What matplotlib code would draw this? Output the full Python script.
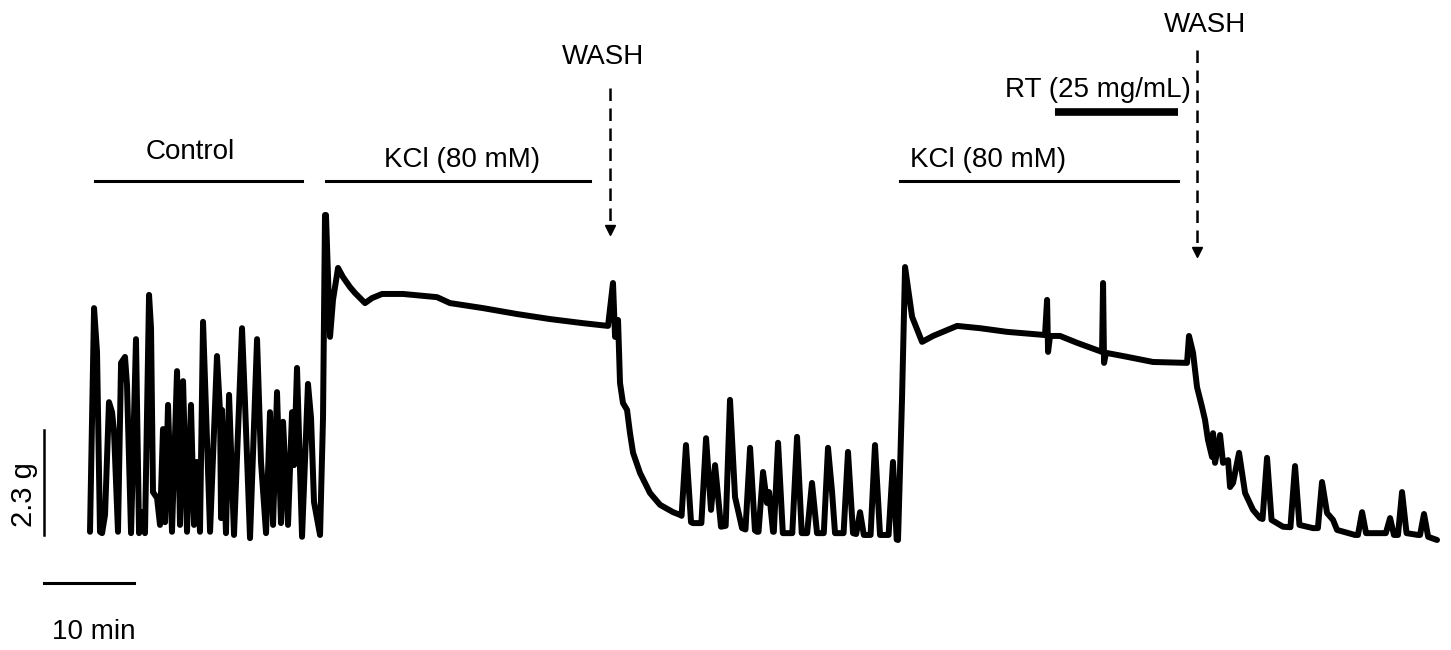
import numpy as np
import matplotlib.pyplot as plt

# ── Trace (time in min, force in g) ────────────────────────────────────────
ctrl_t = [0.22, 0.67, 1.0, 1.33, 1.56, 1.89, 2.33, 2.67, 2.89, 3.33, 3.67, 4.11, 4.33,
          4.78, 5.33, 5.67, 6.0, 6.33, 6.78, 7.0, 7.22, 7.67, 8.0, 8.33, 8.56, 8.89,
          9.33, 9.89, 10.22, 10.56, 11.0, 11.44, 11.78, 12.11, 12.44, 12.78, 13.56,
          14.33, 14.67, 14.78, 14.89, 15.33, 15.67, 16.22, 17.11, 17.44, 18.0, 18.78,
          19.22, 19.78, 20.22, 20.56, 21.0, 21.44, 21.67, 22.22, 22.67, 22.89, 23.22,
          23.78, 24.44, 24.78, 25.11, 25.78]
ctrl_g = [0.07, 4.97, 4.01, 0.07, 0.04, 0.44, 2.91, 2.69, 2.26, 0.07, 3.77, 3.90, 3.29,
          0.04, 4.29, 0.04, 0.50, 0.04, 5.26, 4.53, 0.94, 0.81, 0.22, 2.32, 0.28, 2.85,
          0.07, 3.59, 0.22, 3.37, 0.07, 2.85, 0.22, 1.60, 0.07, 4.67, 0.07,
          3.92, 2.69, 0.37, 2.74, 0.04, 3.07, 0.0, 4.53, 2.91, -0.07, 4.29,
          1.60, 0.04, 2.69, 0.22, 3.13, 0.26, 2.48, 0.22, 2.69, 1.53, 3.66,
          -0.04, 3.31, 2.56, 0.72, 0.0]

kcl1_t = [25.78, 26.11, 26.33, 26.44, 26.89, 27.22, 27.78, 28.33, 29.11, 29.67, 30.78,
          31.56, 32.67, 35.0, 38.78, 40.22, 43.89, 47.67, 51.33, 55.0, 57.78, 58.33,
          58.56, 58.89]
kcl1_g = [0.0, 2.56, 7.01, 7.01, 4.34, 5.15, 5.85, 5.65, 5.43, 5.30, 5.08,
          5.19, 5.28, 5.28, 5.21, 5.08, 4.97, 4.84, 4.73, 4.64, 4.58, 5.52,
          4.34, 4.71]

wash1_t = [58.89, 59.11, 59.44, 59.89, 60.22, 60.56, 61.33, 62.44, 63.56, 65.0, 65.78,
           65.95, 66.44, 67.0, 67.22, 68.0, 68.15, 68.67, 69.22, 69.67, 70.33, 70.85,
           71.33, 71.89, 72.67, 73.05, 73.56, 74.1, 74.33, 74.5, 75.0, 75.44, 75.67,
           76.11, 76.2, 76.67, 77.2, 78.25, 78.78, 79.3, 79.9, 80.44, 81.0, 81.75,
           82.22, 82.67, 83.0, 83.95, 84.44, 85.0, 85.35, 85.78, 86.2, 86.95, 87.44,
           88.0, 88.95, 89.44, 89.85, 90.0]
wash1_g = [4.71, 3.33, 2.89, 2.74, 2.23, 1.80, 1.36, 0.92, 0.66, 0.50, 0.44,
           0.42, 1.97, 0.28, 0.26, 0.26, 0.26, 2.12, 0.55, 1.53, 0.18, 0.20,
           2.96, 0.83, 0.15, 0.12, 1.91, 0.10, 0.07, 0.07, 1.38, 0.70, 0.94,
           0.07, 0.07, 2.02, 0.04, 0.04, 2.15, 0.04, 0.04, 1.14, 0.04, 0.04,
           1.91, 0.94, 0.04, 0.04, 1.82, 0.04, 0.02, 0.50, 0.0, 0.0, 1.97,
           0.0, 0.0, 1.60, -0.10, -0.11]

kcl2_t = [90.0, 90.44, 90.78, 91.56, 92.67, 93.89, 96.56, 99.11, 102.11, 106.33, 106.56,
          106.67, 106.89, 108.0, 109.89, 112.67, 112.78, 112.89, 113.11, 115.0, 118.33,
          122.11, 122.33, 122.78]
kcl2_g = [-0.11, 2.96, 5.87, 4.78, 4.23, 4.36, 4.58, 4.53, 4.45, 4.38, 5.15,
          4.01, 4.36, 4.36, 4.21, 4.01, 5.52, 3.77, 3.99, 3.92, 3.79,
          3.77, 4.36, 3.99]

wash2_t = [122.78, 123.22, 123.78, 124.11, 124.44, 124.89, 125.0, 125.22, 125.78, 126.11,
           126.67, 126.89, 127.22, 127.89, 128.56, 129.44, 130.22, 130.5, 131.0, 131.5,
           132.78, 133.6, 134.11, 134.6, 136.11, 136.65, 137.11, 137.67, 138.33, 138.78,
           140.78, 141.1, 141.56, 142.0, 144.2, 144.67, 145.1, 145.55, 146.0, 146.5,
           147.78, 148.0, 148.44, 148.9, 149.89]
wash2_g = [3.99, 3.24, 2.80, 2.52, 2.08, 1.71, 2.23, 1.58, 2.19, 1.58,
           1.64, 1.05, 1.14, 1.80, 0.92, 0.55, 0.37, 0.35, 1.69, 0.33,
           0.18, 0.17, 1.51, 0.22, 0.15, 0.15, 1.16, 0.48, 0.33, 0.11,
           0.0, 0.0, 0.50, 0.04, 0.04, 0.37, 0.0, 0.0, 0.94, 0.04,
           0.0, 0.0, 0.46, -0.04, -0.11]

# ── Annotations ────────────────────────────────────────────────────────────
bar_labels = ['Control', 'KCl (80 mM)', 'KCl (80 mM)']
bar_start = [0.78, 26.44, 90.22]
bar_end = [23.78, 55.78, 121.11]
rt_label = 'RT (25 mg/mL)'
rt_start, rt_end = 107.44, 121.11
wash_t = [58.0, 123.22]
SCALE_T = 10    # min
SCALE_G = 2.3   # g

t = np.concatenate([ctrl_t, kcl1_t[1:], wash1_t[1:], kcl2_t[1:], wash2_t[1:]])
g = np.concatenate([ctrl_g, kcl1_g[1:], wash1_g[1:], kcl2_g[1:], wash2_g[1:]])

FONT = ['Liberation Sans', 'DejaVu Sans']
FS = 20

fig = plt.figure(figsize=(14.51, 6.5), dpi=100)
fig.patch.set_facecolor('white')
ax = fig.add_axes([0, 0, 1, 1])
ax.set_xlim(-9.78, 151.44)
ax.set_ylim(-2.52, 11.72)
ax.axis('off')

ax.plot(t, g, color='black', linewidth=4.3, solid_joinstyle='round',
        solid_capstyle='round')

# Treatment bars
bar_y = 7.75
for s, e in zip(bar_start, bar_end):
    ax.plot([s, e], [bar_y, bar_y], color='black', linewidth=2.2)
txt_x = [11.33, 41.56, 100.0]
txt_y = [8.39, 8.21, 8.21]
for lab, x, y in zip(bar_labels, txt_x, txt_y):
    ax.text(x, y, lab, ha='center', va='center', fontsize=FS, family=FONT)

ax.plot([rt_start, rt_end], [9.27, 9.27], color='black', linewidth=5.5,
        solid_capstyle='butt')
ax.text(112.2, 9.75, rt_label, ha='center', va='center', fontsize=FS, family=FONT)

# WASH arrows
wash_top = [9.79, 10.62]
wash_tip = [6.57, 6.07]
wash_lab_x = [57.2, 124.1]
wash_lab_y = [10.47, 11.17]
for x, top, tip, lx, ly in zip(wash_t, wash_top, wash_tip, wash_lab_x, wash_lab_y):
    ax.plot([x, x], [top, tip + 0.2], color='black', linewidth=1.8,
            linestyle=(0, (5, 3)))
    ax.plot([x], [tip + 0.12], marker='v', color='black', markersize=7)
    ax.text(lx, ly, 'WASH', ha='center', va='center', fontsize=FS, family=FONT)

# Scale bars
sx = -4.89
ax.plot([sx, sx], [0, SCALE_G], color='black', linewidth=1.8)
ax.text(-7.11, SCALE_G / 2 - 0.27, f'{SCALE_G} g', rotation=90, ha='center',
        va='center', fontsize=21, family=FONT)
ax.plot([sx, sx + SCALE_T], [-1.05, -1.05], color='black', linewidth=2.2)
ax.text(sx + SCALE_T / 2 + 0.5, -2.12, f'{SCALE_T} min', ha='center', va='center',
        fontsize=FS, family=FONT)

fig.savefig('out.png', dpi=100, facecolor='white')
